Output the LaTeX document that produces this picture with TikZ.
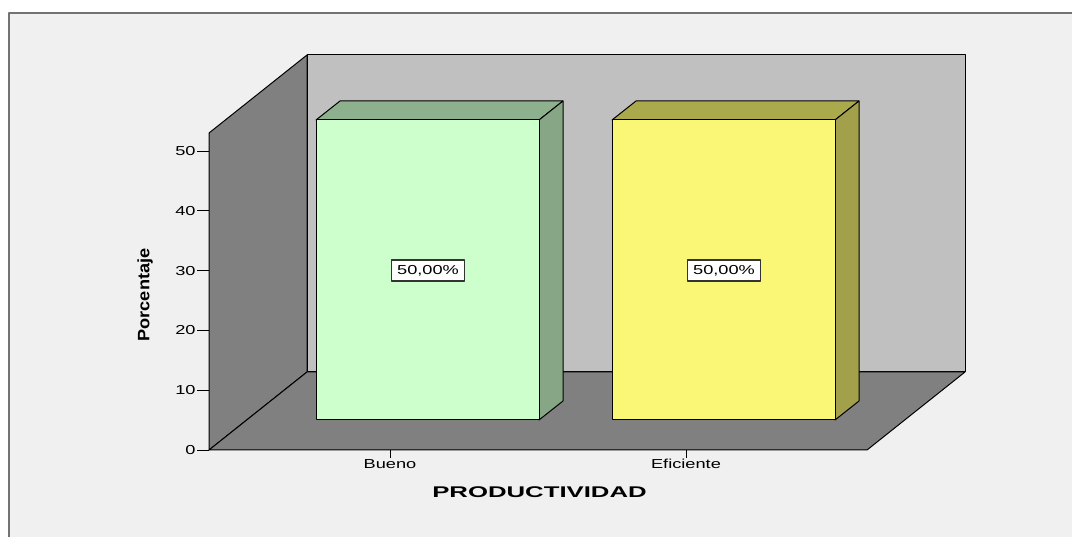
\documentclass[tikz,border=0pt]{standalone}
\usepackage{fontspec}
\usepackage{graphicx}
\setmainfont{Liberation Sans}
\definecolor{fondo}{HTML}{F0F0F0}
\definecolor{pared}{HTML}{C0C0C0}
\definecolor{piso}{HTML}{808080}
\definecolor{verdeA}{HTML}{CCFFCC}
\definecolor{verdeB}{HTML}{8DB08D}
\definecolor{verdeC}{HTML}{86A686}
\definecolor{amarA}{HTML}{FBF776}
\definecolor{amarB}{HTML}{AAAA4C}
\definecolor{amarC}{HTML}{A2A04A}
\newcommand{\ancho}[2][1.4]{\scalebox{#1}[1]{#2}}
\begin{document}
\begin{tikzpicture}[x=1pt,y=-1pt,line join=round,
	cara/.style={draw=black,line width=1pt},
	etiq/.style={font=\fontsize{13}{15}\selectfont,inner sep=1pt},
	valor/.style={draw=black!80,fill=white,line width=1.2pt,inner sep=0pt,minimum width=73pt,minimum height=21pt,font=\fontsize{13}{15}\selectfont}]
		\useasboundingbox (0,0) rectangle (1072,537);
		\fill[white] (0,0) rectangle (1072,537);
		\fill[fondo] (9,13) rectangle (1072,537);
		\draw[black!55,line width=1.5pt] (9,537) -- (9,13) -- (1072,13);
		% paredes y piso
		\filldraw[cara,fill=piso] (209,450) -- (209,133) -- (307,55) -- (307,372) -- cycle;
		\filldraw[cara,fill=pared] (307,55) rectangle (965,372);
		\filldraw[cara,fill=piso] (209,450) -- (307,372) -- (965,372) -- (867,450) -- cycle;
		% eje y
		\foreach \v in {0,10,...,50}
			\draw[line width=0.8pt] (209,{450-5.98*\v}) -- ++(-12,0) node[left,etiq] (tick-\v) {\ancho{\v}};
		\node[font=\bfseries\fontsize{16.5}{18}\selectfont,rotate=90] (ylab) at (145,295) {\ancho[1.1]{Porcentaje}};
		% barras
		\foreach \x/\a/\b/\c/\n in {316/verdeA/verdeB/verdeC/Bueno,612/amarA/amarB/amarC/Eficiente}{
			\filldraw[cara,fill=\b] (\x,120) -- ++(24,-19) -- ++(223,0) -- ++(-24,19) -- cycle;
			\filldraw[cara,fill=\c] (\x+223,120) -- ++(24,-19) -- ++(0,300) -- ++(-24,19) -- cycle;
			\filldraw[cara,fill=\a] (\x,120) rectangle ++(223,300);
			\node[valor] (val-\n) at (\x+112,270.5) {\ancho{50,00\%}};
			\draw[line width=0.8pt] (\x+74,450) -- ++(0,8) node[below,etiq] (cat-\n) {\ancho{\n}};
		}
		\node[font=\bfseries\fontsize{15.5}{17}\selectfont] (xlab) at (539.5,492.5) {\ancho[1.66]{PRODUCTIVIDAD}};
\end{tikzpicture}
\end{document}
